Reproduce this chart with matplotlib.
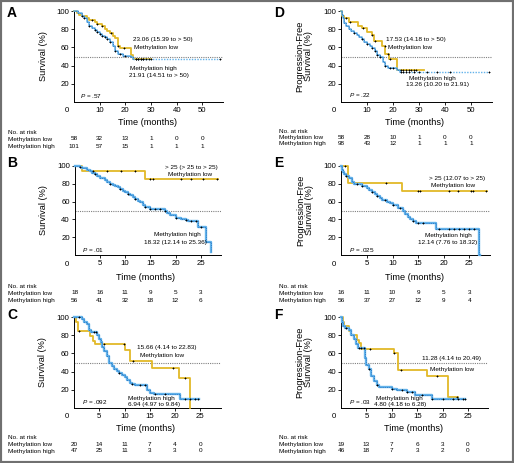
import numpy as np
import matplotlib
matplotlib.use("Agg")
import matplotlib.pyplot as plt
import matplotlib.transforms as mtransforms
from matplotlib import font_manager
from matplotlib.patches import Rectangle

W, H = 514, 463


def pick_font(names):
    for n in names:
        try:
            font_manager.findfont(font_manager.FontProperties(family=n), fallback_to_default=False)
            return n
        except Exception:
            pass
    return "DejaVu Sans"


FONT = pick_font(["Liberation Sans", "Arial"])
plt.rcParams["font.family"] = [FONT, "DejaVu Sans"]
plt.rcParams["mathtext.fontset"] = "custom"
plt.rcParams["mathtext.it"] = FONT + ":italic"
plt.rcParams["mathtext.rm"] = FONT

# ---- data ----
# A: overall survival
a_low_t = [0, 1, 2, 3, 5, 6, 8, 9, 11, 12, 13, 14, 15, 16, 17, 18, 22, 23, 30]
a_low_s = [100, 98, 96, 94, 92, 90, 88, 86, 83, 80, 78, 76, 73, 70, 62, 59, 52, 47, 47]
a_low_cens = [3, 7, 9, 11, 14.5, 17, 19.5, 24, 25, 26, 27]
a_high_t = [0, 1.5, 3, 4, 5, 6, 7, 8, 9, 10, 11, 12, 13, 14, 15, 16, 17, 19, 22, 23, 57]
a_high_s = [100, 98, 95, 92, 88, 84, 81, 79, 77, 75, 73, 71, 69, 66, 61, 56, 53, 51, 49, 47, 47]
a_high_cens = [4, 6, 8, 9, 10, 11, 12, 13, 14, 16, 18, 20, 24, 25, 26, 27, 28, 29, 30, 57]
a_risk_low = [58, 32, 13, 1, 0, 0]
a_risk_high = [101, 57, 15, 1, 1, 1]

# D: progression-free survival
d_low_t = [0, 0.4, 1.2, 2.9, 6.7, 8, 9.9, 11.8, 12.8, 15.6, 17.1, 18.5, 21.5, 32]
d_low_s = [100, 95, 92, 88, 83, 81, 77, 74, 67, 61, 53, 47, 35, 35]
d_low_cens = [2, 3.5, 8.5, 12, 13, 17, 18, 19, 23, 24, 25, 26, 27, 28, 29]
d_high_t = [0, 0.3, 0.6, 1, 2, 3, 4, 5, 6, 7, 8, 9, 10, 11, 12, 13, 14, 15, 16, 17, 18, 21.5, 22.5, 57]
d_high_s = [100, 96, 92, 87, 83, 80, 78, 76, 74, 71, 69, 66, 64, 62, 59, 56, 52, 49, 44, 40, 37, 35, 33, 33]
d_high_cens = [5, 8, 10, 12, 13, 14, 15, 17, 19, 20, 23, 24, 25, 26, 28, 30, 33, 37, 42, 57]
d_risk_low = [58, 28, 10, 1, 0, 0]
d_risk_high = [98, 43, 12, 1, 1, 1]

# B
b_low_t = [0, 1.4, 13.9, 28.5]
b_low_s = [100, 94, 85, 85]
b_low_cens = [3.6, 6.5, 9.2, 12, 15, 15.5, 21, 23, 25.5, 28.3]
b_high_t = [0, 1, 1.5, 2.5, 3, 3.5, 4, 4.5, 5, 5.5, 6, 6.5, 7, 7.5, 8, 8.5, 9, 9.5, 10, 10.5,
            11, 11.5, 12, 12.5, 13, 13.5, 14, 15, 18, 18.3, 19, 20, 21, 22, 22.5, 24.5, 26, 27, 27.1]
b_high_s = [100, 99, 97.5, 96, 94, 92, 91, 89, 87, 86, 84, 82, 80, 79, 77, 76, 74, 72, 71, 69,
            67, 65, 63, 61, 59, 56, 54, 52, 50, 47, 45, 42, 41, 39, 38, 32, 15, 3, 3]
b_high_cens = [1, 4, 7, 9, 10.5, 12, 14, 15, 16, 17, 18, 20, 22, 23, 24, 25]
b_risk_low = [18, 16, 11, 9, 5, 3]
b_risk_high = [56, 41, 32, 18, 12, 6]

# E
e_low_t = [0, 1.4, 11.9, 28.4]
e_low_s = [100, 80.5, 72, 72]
e_low_cens = [0.7, 8.7, 15, 15.3, 21, 22.7, 25.3, 25.7, 28.2]
e_high_t = [0, 0.2, 0.4, 0.6, 1, 1.5, 2, 2.5, 4, 5, 5.5, 6, 6.5, 7, 7.5, 8, 9, 9.5, 10, 11,
            12.1, 12.5, 13, 13.5, 14, 14.5, 18.5, 26.9, 27.0]
e_high_s = [100, 96, 93, 91, 89, 86, 82, 80, 78, 75, 73, 71, 68, 66, 64, 62, 60, 58, 56, 53,
            49, 46, 43, 40, 38, 36, 29, 0, 0]
e_high_cens = [1, 3, 4, 6, 7, 8.5, 10, 11.5, 14, 15, 16, 19, 21, 22, 23, 24, 25, 26]
e_risk_low = [16, 11, 10, 9, 5, 3]
e_risk_high = [56, 37, 27, 12, 9, 4]

# C
c_low_t = [0, 0.3, 0.8, 3.2, 3.8, 4.2, 10.1, 11.1, 15.5, 20.7, 23, 23.01]
c_low_s = [100, 95, 85, 79, 74, 70, 64, 52, 44, 33, 0, 0]
c_low_cens = [1, 6, 9.8, 11.6, 19.5, 22]
c_high_t = [0, 1.5, 2, 2.5, 3, 3.3, 4.6, 5, 5.3, 5.6, 6, 6.5, 6.9, 7.5, 8, 8.5, 9, 9.5, 10,
            10.5, 11, 11.5, 12, 14.4, 15, 15.8, 21, 24.7]
c_high_s = [100, 98, 95, 92, 86, 84, 80, 76, 72, 67, 63, 57, 50, 46, 43, 41, 38, 36, 34,
            31, 28, 26, 25, 20, 17, 15, 10, 10]
c_high_cens = [1, 4, 4.3, 9, 11.5, 13, 14, 16, 18, 22, 23, 24, 24.5]
c_risk_low = [20, 14, 11, 7, 4, 0]
c_risk_high = [47, 25, 11, 3, 3, 0]

# F
f_low_t = [0, 0.3, 0.6, 1.6, 2, 3.1, 3.5, 4, 10.5, 11.3, 17, 21, 23]
f_low_s = [100, 94, 90, 85, 80, 75, 71, 65, 60, 42, 35, 12, 12]
f_low_cens = [5.8, 10.5, 11.9, 18.9, 22.8]
f_high_t = [0, 0.2, 0.4, 0.7, 1.6, 2, 2.5, 3, 3.3, 4.7, 4.8, 5.0, 5.5, 6, 6.5, 7, 7.5, 10,
            11, 13, 14.5, 18, 24.5]
f_high_s = [100, 95, 90, 88, 86, 80, 76, 70, 66, 64, 55, 47, 43, 35, 30, 25, 23, 21,
            20, 18, 14, 10, 10]
f_high_cens = [1, 3.5, 4, 4.5, 5.5, 7, 10, 12, 13, 14, 16, 18, 20, 22, 23, 24, 24.4]
f_risk_low = [19, 13, 7, 6, 3, 0]
f_risk_high = [46, 18, 7, 3, 2, 0]

risk_times_long = [0, 10, 20, 30, 40, 50]
risk_times_short = [0, 5, 10, 15, 20, 25]

YELLOW = "#e2b928"
BLUE = "#62b2ea"
BLUE_DARK = "#1f6fbf"

FS_LABEL = 6.6
FS_TICK = 5.6
FS_NOTE = 4.6
FS_RISK = 4.6

fig = plt.figure(figsize=(W / 100, H / 100), dpi=100)


def ftext(px, py, s, **kw):
    return fig.text(px / W, 1 - py / H, s, **kw)


def add_axes(left, top, right, bottom):
    return fig.add_axes([left / W, 1 - bottom / H, (right - left) / W, (bottom - top) / H])


def surv_at(t, s, x):
    i = np.searchsorted(t, x, side="right") - 1
    return np.asarray(s)[i]


def draw_curve(ax, t, s, cens, kind, tail=None, thin=False):
    t = np.asarray(t, float)
    s = np.asarray(s, float)
    if tail is not None:
        m = t <= tail
        tt, ss = t[m], s[m]
    else:
        tt, ss = t, s
    if kind == "low":
        ax.step(tt, ss, where="post", color=YELLOW, lw=1.3, clip_on=False, zorder=3)
    else:
        lw = 1.1 if thin else 1.7
        ax.step(tt, ss, where="post", color=BLUE, lw=lw, clip_on=False, zorder=3)
        ax.step(tt, ss, where="post", color=BLUE_DARK, lw=0.55, ls=(0, (1.2, 1.2)),
                clip_on=False, zorder=4)
    if tail is not None:
        ax.plot([tail, t[-1]], [s[-1], s[-1]], color=BLUE, lw=1.0, ls=(0, (1, 1)),
                clip_on=False, zorder=3)
    cy = [surv_at(t, s, c) for c in cens]
    ax.plot(cens, cy, ls="none", marker="+", ms=2.1, mew=0.6, color="black",
            clip_on=False, zorder=5)


def setup_axes(ax, xmax, xticks, ylabel, ylx, xlx, xly):
    ax.set_xlim(0, xmax)
    ax.set_ylim(0, 100)
    for sp in ["top", "right"]:
        ax.spines[sp].set_visible(False)
    for sp in ["left", "bottom"]:
        ax.spines[sp].set_linewidth(0.7)
    ax.set_xticks(xticks)
    ax.set_yticks([20, 40, 60, 80, 100])
    ax.tick_params(direction="out", length=2, width=0.6, pad=1.5, labelsize=FS_TICK)
    ax.axhline(50, color="0.5", lw=0.8, ls=(0, (1, 1)), zorder=1)
    ax.set_ylabel(ylabel, fontsize=FS_LABEL, linespacing=1.0)
    ax.yaxis.set_label_coords(ylx, 0.5)
    ax.set_xlabel("Time (months)", fontsize=FS_LABEL, va="center")
    ax.xaxis.set_label_coords(xlx, xly)


def risk_table(ax, label_x, rows_y, times, low, high):
    tr = mtransforms.blended_transform_factory(ax.transData, fig.transFigure)
    ftext(label_x, rows_y[0], "No. at risk", fontsize=FS_RISK, va="center")
    ftext(label_x, rows_y[1], "Methylation low", fontsize=FS_RISK, va="center")
    ftext(label_x, rows_y[2], "Methylation high", fontsize=FS_RISK, va="center")
    for x, lo, hi in zip(times, low, high):
        ax.text(x, 1 - rows_y[1] / H, str(lo), transform=tr, fontsize=FS_RISK,
                ha="center", va="center", clip_on=False)
        ax.text(x, 1 - rows_y[2] / H, str(hi), transform=tr, fontsize=FS_RISK,
                ha="center", va="center", clip_on=False)


def note(px, py, s, ha="left"):
    ftext(px, py, s, fontsize=FS_NOTE, ha=ha, va="center")


def letter(px, py, s):
    ftext(px, py, s, fontsize=10, fontweight="bold", va="center")


def zero(px, py):
    ftext(px, py, "0", fontsize=FS_TICK, ha="center", va="center")


OS = "Survival (%)"
PFS = "Progression-Free\nSurvival (%)"

# ---- A ----
ax = add_axes(74, 11, 223, 102)
setup_axes(ax, 58, [10, 20, 30, 40, 50], OS, -0.174, 0.49, -0.225)
draw_curve(ax, a_low_t, a_low_s, a_low_cens, "low")
draw_curve(ax, a_high_t, a_high_s, a_high_cens, "high", tail=23, thin=True)
risk_table(ax, 8, [132, 139, 146], risk_times_long, a_risk_low, a_risk_high)
note(133, 40, "23.06 (15.39 to > 50)")
note(134, 47.5, "Methylation low")
note(130, 68.5, "Methylation high")
note(129, 76, "21.91 (14.51 to > 50)")
note(80, 95.5, r"$P$ = .57")
zero(67, 110)
letter(7, 12.7, "A")

# ---- D ----
ax = add_axes(341, 11, 491.8, 102)
setup_axes(ax, 58, [10, 20, 30, 40, 50], PFS, -0.186, 0.487, -0.225)
draw_curve(ax, d_low_t, d_low_s, d_low_cens, "low")
draw_curve(ax, d_high_t, d_high_s, d_high_cens, "high", tail=22.5, thin=True)
risk_table(ax, 279, [131.5, 137.5, 143.5], risk_times_long, d_risk_low, d_risk_high)
note(386, 40, "17.53 (14.18 to > 50)")
note(388, 47.5, "Methylation low")
note(408.7, 78.3, "Methylation high")
note(405.7, 84.7, "13.26 (10.20 to 21.91)")
note(348.7, 95.3, r"$P$ = .22")
zero(333.7, 110)
letter(273.7, 12.7, "D")

# ---- B ----
ax = add_axes(74.7, 166, 220.9, 255)
setup_axes(ax, 29, [5, 10, 15, 20, 25], OS, -0.183, 0.486, -0.25)
draw_curve(ax, b_low_t, b_low_s, b_low_cens, "low")
draw_curve(ax, b_high_t, b_high_s, b_high_cens, "high")
risk_table(ax, 8, [286.7, 293, 300.5], risk_times_short, b_risk_low, b_risk_high)
note(191.5, 167.3, "> 25 (> 25 to > 25)", ha="center")
note(190, 174.3, "Methylation low", ha="center")
note(177.5, 234.3, "Methylation high", ha="center")
note(175, 242.3, "18.32 (12.14 to 25.36)", ha="center")
note(81.7, 250, r"$P$ = .01")
zero(67, 264)
letter(7, 163.3, "B")

# ---- E ----
ax = add_axes(341.3, 166, 489.8, 255)
setup_axes(ax, 29, [5, 10, 15, 20, 25], PFS, -0.185, 0.49, -0.25)
draw_curve(ax, e_low_t, e_low_s, e_low_cens, "low")
draw_curve(ax, e_high_t, e_high_s, e_high_cens, "high")
risk_table(ax, 279, [287, 293, 300.5], risk_times_short, e_risk_low, e_risk_high)
note(457.3, 178.3, "> 25 (12.07 to > 25)", ha="center")
note(453.3, 185.7, "Methylation low", ha="center")
note(448.3, 235.7, "Methylation high", ha="center")
note(447.8, 242.3, "12.14 (7.76 to 18.32)", ha="center")
note(348.7, 250, r"$P$ = .025")
zero(333.7, 264)
letter(273.7, 163.3, "E")

# ---- C ----
ax = add_axes(74, 317, 220.5, 408)
setup_axes(ax, 29, [5, 10, 15, 20, 25], OS, -0.183, 0.486, -0.225)
draw_curve(ax, c_low_t, c_low_s, c_low_cens, "low")
draw_curve(ax, c_high_t, c_high_s, c_high_cens, "high")
risk_table(ax, 8, [437.3, 444.3, 451], risk_times_short, c_risk_low, c_risk_high)
note(166.7, 347.3, "15.66 (4.14 to 22.83)", ha="center")
note(162.5, 355, "Methylation low", ha="center")
note(151.7, 398.5, "Methylation high", ha="center")
note(154, 404.5, "6.94 (4.97 to 9.84)", ha="center")
note(81.7, 401.7, r"$P$ = .092")
zero(66.7, 416.7)
letter(7, 315, "C")

# ---- F ----
ax = add_axes(341, 317, 488.3, 408)
setup_axes(ax, 29, [5, 10, 15, 20, 25], PFS, -0.19, 0.49, -0.225)
draw_curve(ax, f_low_t, f_low_s, f_low_cens, "low")
draw_curve(ax, f_high_t, f_high_s, f_high_cens, "high")
risk_table(ax, 279, [437.3, 444.3, 451], risk_times_short, f_risk_low, f_risk_high)
note(451.7, 358.3, "11.28 (4.14 to 20.49)", ha="center")
note(452.5, 370, "Methylation low", ha="center")
note(399.2, 398.5, "Methylation high", ha="center")
note(400.3, 404.5, "4.80 (4.18 to 6.28)", ha="center")
note(348.7, 401.7, r"$P$ = .03")
zero(333.7, 416.7)
letter(273.7, 315, "F")

# grey frame round the whole figure
fig.patches.append(Rectangle((0, 0), 1, 1, transform=fig.transFigure, fill=False,
                             ec="#707070", lw=3))

fig.savefig("out.png", dpi=100)
